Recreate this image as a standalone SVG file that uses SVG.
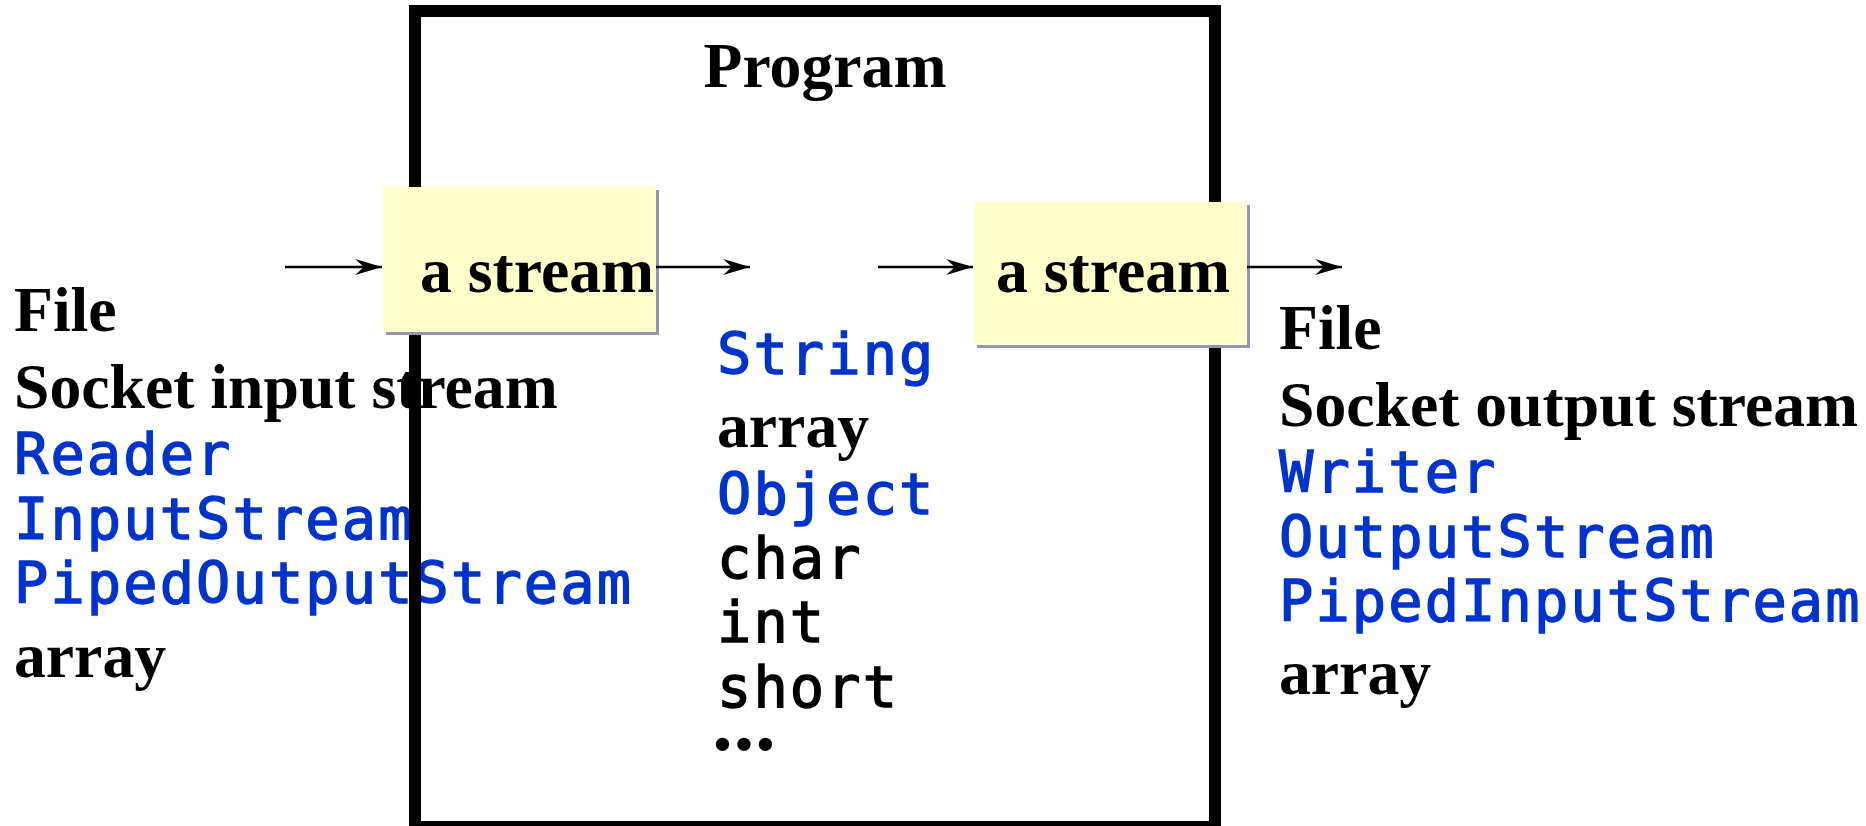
<svg xmlns="http://www.w3.org/2000/svg" width="1866" height="826" viewBox="0 0 1866 826">
<style>
.serif{font-family:"Liberation Serif","Times New Roman",serif;font-weight:bold;font-size:63.7px;fill:#000}
.mono{font-family:"DejaVu Sans Mono","Liberation Mono",monospace;font-size:57px;letter-spacing:2.1px;stroke-width:1.4px}
.blue{fill:#0033CC;stroke:#0033CC}
.blk{fill:#000;stroke:#000}
.box{fill:#FFFFCC}
.shadow{fill:#9494AE}
.conn{stroke:#000;stroke-width:2.5;fill:none}
</style>
<defs>
<marker id="arr" markerUnits="userSpaceOnUse" markerWidth="30" markerHeight="20" viewBox="-26 -9 28 18" refX="0" refY="0" orient="auto">
<path d="M0,0 L-25,-7.5 L-17,0 L-25,7.5 Z" fill="#000"/>
</marker>
</defs>
<rect width="1866" height="826" fill="#fff"/>

<g id="input-sources">
<text class="serif" x="14" y="331">File</text>
<text class="serif" x="14" y="408">Socket input stream</text>
<text class="mono blue" x="14" y="474">Reader</text>
<text class="mono blue" x="14" y="539">InputStream</text>
<text class="mono blue" x="14" y="603">PipedOutputStream</text>
<text class="serif" x="14" y="677">array</text>
</g>

<g id="program">
<rect x="415" y="11" width="800" height="816" fill="none" stroke="#000" stroke-width="12"/>
<text class="serif" x="825" y="87" text-anchor="middle" font-size="65">Program</text>
</g>

<g id="input-stream">
<rect class="shadow" x="386" y="190" width="273" height="145"/>
<rect class="box" x="383" y="187" width="273" height="145"/>
<text class="serif" x="420" y="292">a stream</text>
</g>

<g id="output-stream">
<rect class="shadow" x="977" y="205" width="273" height="143"/>
<rect class="box" x="974" y="202" width="273" height="143"/>
<text class="serif" x="996" y="292">a stream</text>
</g>

<g id="data-types">
<text class="mono blue" x="717" y="374">String</text>
<text class="serif" x="717" y="447">array</text>
<text class="mono blue" x="717" y="514">Object</text>
<text class="mono blk" x="717" y="578">char</text>
<text class="mono blk" x="717" y="642">int</text>
<text class="mono blk" x="717" y="707">short</text>
<text class="serif" x="712" y="749" font-size="54" stroke="#000" stroke-width="3">…</text>
</g>

<g id="output-targets">
<text class="serif" x="1279" y="349">File</text>
<text class="serif" x="1279" y="426">Socket output stream</text>
<text class="mono blue" x="1279" y="492">Writer</text>
<text class="mono blue" x="1279" y="557">OutputStream</text>
<text class="mono blue" x="1279" y="621">PipedInputStream</text>
<text class="serif" x="1279" y="694">array</text>
</g>

<g id="connectors">
<line class="conn" x1="285" y1="267" x2="382" y2="267" marker-end="url(#arr)"/>
<line class="conn" x1="656" y1="267" x2="750" y2="267" marker-end="url(#arr)"/>
<line class="conn" x1="878" y1="267" x2="973" y2="267" marker-end="url(#arr)"/>
<line class="conn" x1="1247" y1="267" x2="1342" y2="267" marker-end="url(#arr)"/>
</g>
</svg>
